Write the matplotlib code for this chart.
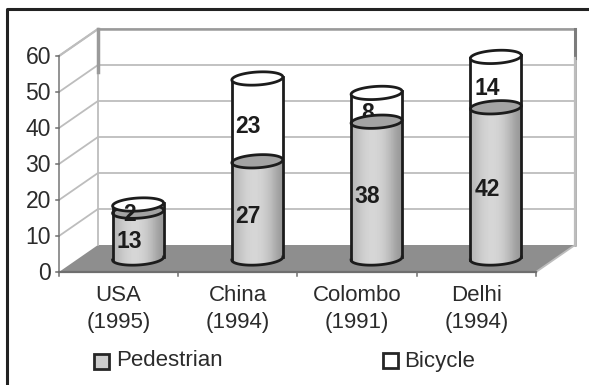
import numpy as np
import matplotlib
matplotlib.use('Agg')
import matplotlib.pyplot as plt
from matplotlib.patches import Polygon, Rectangle

plt.rcParams['font.family'] = ['Liberation Sans', 'DejaVu Sans']

categories = ['USA\n(1995)', 'China\n(1994)', 'Colombo\n(1991)', 'Delhi\n(1994)']
pedestrian = [13, 27, 38, 42]
bicycle = [2, 23, 8, 14]
y_ticks = [0, 10, 20, 30, 40, 50, 60]

# scale of the whole-figure axes: one category = 119.25 px, one unit = 3.6 px
PX_X = 119.25
PX_Y = 3.6
X0 = 118.6
Y0 = 272
W, H = 589, 385

# depth of the fake 3d box
DX = 39 / PX_X
DY = 27 / PX_Y
RX = 25.5 / PX_X
RY = 6.5 / PX_Y
TILT = 1.5 / PX_Y

GRID = '#bdbdbd'
WALL = '#9a9a9a'
FLOOR = '#8e8e8e'
INK = '#1c1c1c'
TEXT = '#2b2b2b'


def px(x):
    return (x - X0) / PX_X


def py(y):
    return (Y0 - y) / PX_Y


def ellipse_pts(cx, cy, start=0, stop=2 * np.pi):
    t = np.linspace(start, stop, 80)
    return np.column_stack([cx + RX * np.cos(t),
                            cy + RY * np.sin(t) + TILT * np.cos(t)])


def cylinder_outline(cx, y1, y2):
    # front half of the lower rim, back half of the upper rim
    low = ellipse_pts(cx, y1, np.pi, 2 * np.pi)
    up = ellipse_pts(cx, y2, 0, np.pi)
    return np.vstack([low, up])


fig = plt.figure(figsize=(W / 100, H / 100), dpi=100)
ax = fig.add_axes([0, 0, 1, 1])
ax.set_xlim(px(0), px(W))
ax.set_ylim(py(H), py(0))
ax.axis('off')

n = len(categories)
x_left = -0.5
x_right = n - 0.5

# outer frame, only top and left
ax.plot([px(7), px(7), px(W)], [py(H), py(9), py(9)], color='#222222', lw=2.2,
        solid_capstyle='butt', zorder=1)

# floor
ax.add_patch(Polygon([(x_left, 0), (x_left + DX, DY), (x_right + DX, DY), (x_right, 0)],
                     fc=FLOOR, ec='none', zorder=2))

# walls and gridlines
for v in y_ticks[1:]:
    ax.plot([x_left, x_left + DX, x_right + DX], [v, v + DY, v + DY],
            color=GRID, lw=1.3, zorder=2)
ax.plot([x_left, x_left + DX], [60, 60 + DY], color=GRID, lw=1.6, zorder=2)
ax.plot([x_left + DX, x_right + DX, x_right + DX],
        [60 + DY, 60 + DY, DY], color=WALL, lw=1.8, zorder=2)
ax.plot([x_left + DX, x_left + DX], [60 + DY, DY], color=GRID, lw=1.3, zorder=2)
ax.plot([x_left + DX, x_left + DX], [60 + DY, 48 + DY], color=WALL, lw=2.5, zorder=2)
ax.plot([x_right + DX, x_right + DX], [60 + DY, 52 + DY], color='#7c7c7c', lw=2.2, zorder=2)
ax.plot([x_right + DX, x_right + DX], [52 + DY, DY], color=GRID, lw=1.6, zorder=2)
ax.plot([x_right, x_right + DX], [0, DY], color=GRID, lw=1.3, zorder=2)

# front axes
ax.plot([x_left, x_left], [0, 60], color='#8a8a8a', lw=1.3, zorder=3)
ax.plot([x_left, x_right], [0, 0], color='#6e6e6e', lw=1.6, zorder=3)
for v in y_ticks:
    ax.plot([x_left - 3 / PX_X, x_left], [v, v], color='#6e6e6e', lw=1.1, zorder=3)
    ax.text(px(51), v - 0.4, str(v), ha='right', va='center', fontsize=16.5, color=TEXT)
for i in range(n + 1):
    ax.plot([i - 0.5, i - 0.5], [0, -1], color='#6e6e6e', lw=1.1, zorder=3)
for i, name in enumerate(categories):
    ax.text(i, py(309), name, ha='center', va='center', fontsize=16, color=TEXT,
            linespacing=1.42)

# cylinders
shade = np.array([0.72, 0.80, 0.84, 0.84, 0.80, 0.72, 0.60])[None, :]
for i in range(n):
    cx = i + DX / 2
    base = DY / 2
    top1 = base + pedestrian[i]
    top2 = top1 + bicycle[i]

    body = Polygon(cylinder_outline(cx, base, top1), closed=True, fc='none', ec='none', zorder=4)
    ax.add_patch(body)
    im = ax.imshow(shade, cmap='gray', vmin=0, vmax=1, aspect='auto', interpolation='bicubic',
                   extent=(cx - RX, cx + RX, base - RY - 1, top1 + RY + 1), zorder=4)
    im.set_clip_path(body)

    ax.add_patch(Polygon(cylinder_outline(cx, top1, top2), closed=True, fc='white', ec='none',
                         zorder=4))

    lw = 2.0
    for side in (-1, 1):
        ax.plot([cx + side * RX] * 2, [base + side * TILT, top2 + side * TILT],
                color=INK, lw=lw, zorder=7)
    ax.plot(*ellipse_pts(cx, base, np.pi, 2 * np.pi).T, color=INK, lw=lw, zorder=7)

    # bike label sits under the pedestrian lid, except where the lid would swallow it
    on_top = bicycle[i] < 5
    ax.text(cx - 9 / PX_X, top1 + bicycle[i] / 2 - 1.8, str(bicycle[i]), ha='center', va='center',
            fontsize=16.5, fontweight='bold', color=INK, zorder=8 if on_top else 5)
    ax.text(cx - 9 / PX_X, base + pedestrian[i] / 2 - 1.8, str(pedestrian[i]), ha='center',
            va='center', fontsize=16.5, fontweight='bold', color=INK, zorder=5)

    ax.add_patch(Polygon(ellipse_pts(cx, top1), closed=True, fc='#a3a3a3', ec=INK, lw=lw, zorder=6))
    ax.add_patch(Polygon(ellipse_pts(cx, top2), closed=True, fc='white', ec=INK, lw=lw, zorder=7))

# legend
ax.add_patch(Rectangle((px(94), py(369)), 15 / PX_X, 15 / PX_Y, fc='#cccccc', ec='#262626', lw=2.0))
ax.text(px(116), py(361), 'Pedestrian', ha='left', va='center', fontsize=16, color=TEXT)
ax.add_patch(Rectangle((px(383), py(368)), 15 / PX_X, 15 / PX_Y, fc='white', ec='#262626', lw=2.0))
ax.text(px(404), py(361), 'Bicycle', ha='left', va='center', fontsize=16, color=TEXT)

ax.set_xlim(px(0), px(W))
ax.set_ylim(py(H), py(0))
fig.savefig('out.png', dpi=100)
